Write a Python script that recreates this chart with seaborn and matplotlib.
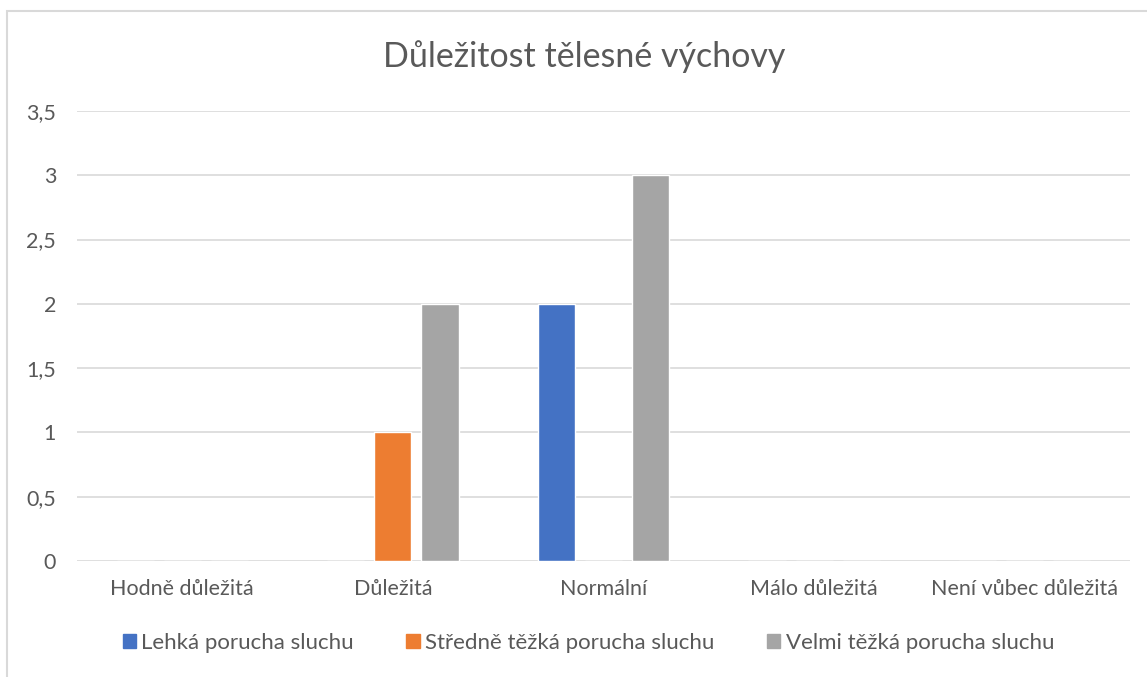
import numpy as np
import pandas as pd
import matplotlib
matplotlib.use("Agg")
import matplotlib.pyplot as plt
import seaborn as sns
from matplotlib.patches import Rectangle, Patch
from matplotlib.ticker import FuncFormatter

# -----------------------------
# DATA
# -----------------------------
categories = ["Hodně důležitá", "Důležitá", "Normální", "Málo důležitá", "Není vůbec důležitá"]
series = ["Lehká porucha sluchu", "Středně těžká porucha sluchu", "Velmi těžká porucha sluchu"]
lehka = [0, 0, 2, 0, 0]
stredne = [0, 1, 0, 0, 0]
velmi = [0, 2, 3, 0, 0]
colors = ["#4472C4", "#ED7D31", "#A5A5A5"]

df = pd.DataFrame({
    "kategorie": categories * 3,
    "skupina": [series[0]] * 5 + [series[1]] * 5 + [series[2]] * 5,
    "pocet": lehka + stredne + velmi,
})

# -----------------------------
# STYLE
# -----------------------------
sns.set_theme(style="white")
plt.rcParams["font.family"] = ["Lato", "DejaVu Sans"]
text_col = "#595959"
grid_col = "#D9D9D9"

fig = plt.figure(figsize=(11.47, 6.77), dpi=100)
ax = fig.add_axes([77 / 1147, 1 - 561 / 677, (1130 - 77) / 1147, (561 - 111) / 677])

sns.barplot(
    data=df,
    x="kategorie",
    y="pocet",
    hue="skupina",
    hue_order=series,
    order=categories,
    palette=colors,
    width=0.67,
    gap=0.21,
    saturation=1,
    legend=False,
    ax=ax,
    zorder=3,
)

ax.set_ylim(0, 3.5)
ax.set_xlim(-0.5, 4.5)
ax.set_yticks(np.arange(0, 3.51, 0.5))
ax.yaxis.set_major_formatter(FuncFormatter(lambda v, p: f"{v:g}".replace(".", ",")))
ax.grid(axis="y", color=grid_col, linewidth=1.2, zorder=0)
for s in ax.spines.values():
    s.set_visible(False)
ax.tick_params(axis="both", length=0, colors=text_col, labelsize=15.5)
ax.tick_params(axis="y", pad=15)
ax.tick_params(axis="x", pad=13)
ax.set_xlabel("")
ax.set_ylabel("")

fig.text(0.509, 1 - 57 / 677, "Důležitost tělesné výchovy", ha="center", va="center",
         fontsize=24.5, color=text_col)

handles = [Patch(facecolor=c, edgecolor=c) for c in colors]
fig.legend(handles, series, loc="center", bbox_to_anchor=(0.513, 1 - 643 / 677), ncol=3,
           frameon=False, fontsize=16, handlelength=0.6, handleheight=0.6,
           handletextpad=0.25, columnspacing=2.35, labelcolor=text_col)

# chart area border (left and top visible)
fig.patches.append(Rectangle((7 / 1147, -0.5), 2, 0.5 + 1 - 11 / 677, transform=fig.transFigure,
                             fill=False, edgecolor=grid_col, linewidth=1.5))

fig.savefig("out.png", dpi=100)
